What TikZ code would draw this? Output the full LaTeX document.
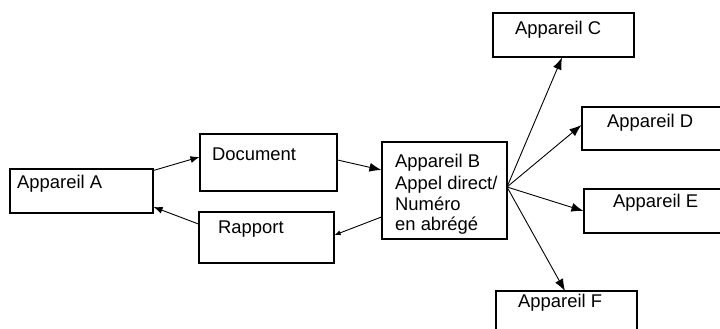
\documentclass[tikz,border=0pt]{standalone}
\usepackage{fontspec}
\setmainfont{Liberation Sans}
\usetikzlibrary{arrows.meta}
\begin{document}
\begin{tikzpicture}[x=1pt,y=-1pt,
  box/.style={draw,line width=1.1pt,inner sep=0pt},
  lbl/.style={anchor=base west,inner sep=0pt,font=\fontsize{18.4}{22}\selectfont},
  conn/.style={line width=0.9pt,-{Latex[length=12pt,width=9pt]}},
  mconn/.style={line width=0.9pt,-{Latex[length=9pt,width=7pt]}},
  sconn/.style={line width=0.9pt,-{Latex[length=6pt,width=5pt]}}]
\clip (0,0) rectangle (720,329);
\fill[white] (0,0) rectangle (720,329);
% boxes
\node[box,minimum width=143pt,minimum height=44pt] (A) at (81.5,191) {};
\node[box,minimum width=137pt,minimum height=57pt] (Doc) at (268.5,162.5) {};
\node[box,minimum width=135pt,minimum height=51pt] (Rap) at (266.5,237.5) {};
\node[box,minimum width=125pt,minimum height=97pt] (B) at (444.5,190.5) {};
\node[box,minimum width=141pt,minimum height=44pt] (C) at (563.5,35) {};
\node[box,minimum width=144pt,minimum height=43pt] (D) at (654,128.5) {};
\node[box,minimum width=142pt,minimum height=44pt] (E) at (655,211) {};
\node[box,minimum width=141pt,minimum height=44pt] (F) at (566.5,313) {};
% labels
\node[lbl] (tA) at (17,188) {Appareil A};
\node[lbl] (tDoc) at (212,160) {Document};
\node[lbl] (tRap) at (218,233) {Rapport};
\node[lbl] (tB1) at (395,167) {Appareil B};
\node[lbl] (tB2) at (395,189) {Appel direct/};
\node[lbl] (tB3) at (395,210) {Numéro};
\node[lbl] (tB4) at (395,230) {en abrégé};
\node[lbl] (tC) at (515,35) {Appareil C};
\node[lbl] (tD) at (607,127) {Appareil D};
\node[lbl] (tE) at (613,207) {Appareil E};
\node[lbl] (tF) at (518,307) {Appareil F};
% connectors
\coordinate (hub) at (507,187);
\draw[mconn] ([yshift=-2pt]A.north east) -- ([yshift=5.5pt]Doc.west);
\draw[conn] ([yshift=2.5pt]Doc.east) -- ([yshift=20.5pt]B.west);
\draw[sconn] ([yshift=-26.5pt]B.west) -- ([yshift=2.5pt]Rap.east);
\draw[mconn] ([yshift=13.5pt]Rap.west) -- ([yshift=-16pt]A.east);
\draw[conn] (hub) -- (562,57.5);
\draw[conn] (hub) -- ([yshift=3.5pt]D.west);
\draw[conn] (hub) -- ([yshift=0pt]E.west);
\draw[conn] (hub) -- (565,291);
\end{tikzpicture}
\end{document}
